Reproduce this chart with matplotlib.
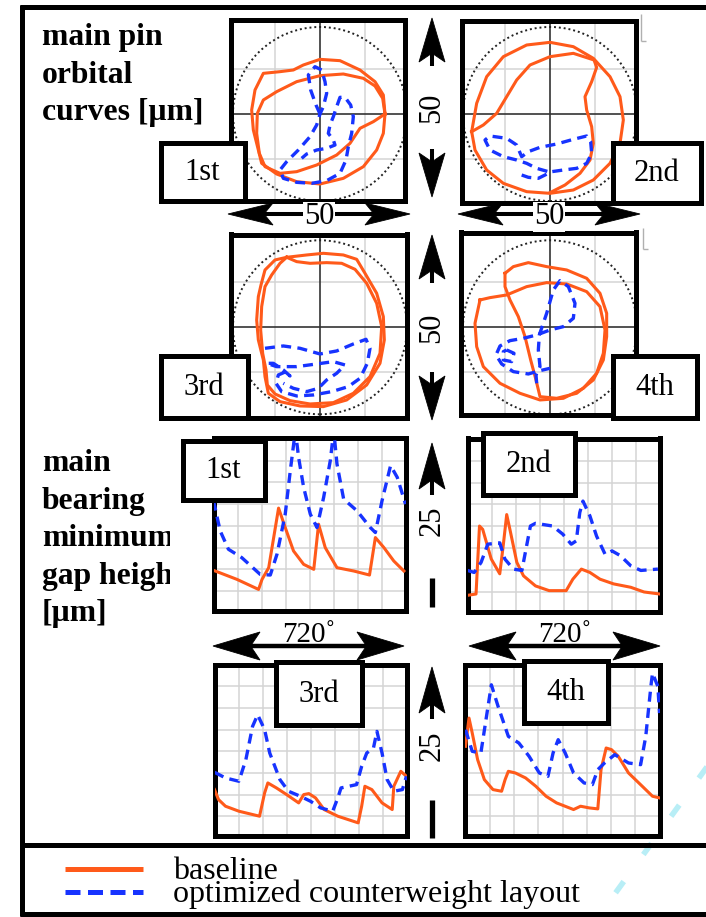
import numpy as np
import matplotlib.pyplot as plt
from matplotlib.patches import Rectangle, Polygon, Circle
from matplotlib.lines import Line2D
from matplotlib.transforms import Affine2D

# Colours / fonts
# ____________________________________________________________
C_BASE = '#ff5a1a'     # baseline (orange)
C_OPT = '#1733ff'      # optimized layout (blue dashed)
C_GRID = '#d4d4d4'
SERIF = ['Liberation Serif', 'DejaVu Serif']
plt.rcParams['font.family'] = SERIF

W, H = 706, 917

# Orbital curves [um], main pin 1..4  (x, y)
# ____________________________________________________________
orb1_base_a = [(19.5, 0), (19, 5.7), (16.5, 9.7), (12, 13.2), (6, 16), (0, 16.4), (-5, 14.7),
               (-8, 13.2), (-12, 12.7), (-17, 12.2), (-19.5, 7.2), (-20.5, 1.2), (-20, -4.8),
               (-18.5, -10.8), (-17.5, -14.8), (-13, -18), (-7, -20.3), (0, -21), (7, -19.3),
               (13, -15.8), (17, -10.8), (19, -5.8), (19.5, 0)]
orb1_base_b = [(19.5, 0), (16, -2.3), (12, -4.3), (9, -8.8), (5, -12.3), (-1, -15.3), (-7, -17.3),
               (-12, -17.8), (-16.5, -15.8), (-18.2, -11.8), (-19, -5.8), (-18.8, 0.2), (-17, 4.2),
               (-13, 6.7), (-7, 9.7), (0, 11.5), (7, 12), (13, 10.7), (16.5, 8.4), (18.8, 4.7),
               (19.5, 0)]
orb1_opt = [(0, 0), (-1.2, 2.7), (-2.8, 7.2), (-3.5, 11.7), (-1.5, 14.2), (0.5, 13.2), (1.5, 9.7),
            (2, 6.2), (1, 2.2), (0, 0), (-1, -3.3), (-3, -6.8), (-6.5, -10.8), (-10, -14.3),
            (-12, -16.8), (-11, -19.3), (-7, -20.5), (-2.5, -20.8), (2, -20), (6, -17.8),
            (7.8, -13.8), (8.5, -9.8), (9.5, -5.8), (10, -0.8), (9.2, 2.7), (7.5, 5), (6, 5),
            (5, 2.2), (4, -0.8), (3, -3.3), (2.5, -5.8), (4, -7.8), (4.5, -9.3), (2, -10.3),
            (-1, -10.8), (-4, -12), (-5.5, -13.3)]

orb2_base_a = [(-23.5, -5.3), (-22, 3.2), (-19, 11.2), (-14, 17.2), (-7, 20.7), (0, 21.5), (7, 20.2),
               (13, 16.7), (18, 11.2), (21, 5.2), (22, -1.8), (21, -8.8), (18, -14.8), (13, -19.8),
               (7, -22.8), (0, -23.8), (-7, -23.3), (-14, -20.8), (-19, -16.8), (-22.5, -10.8),
               (-23.5, -5.3)]
orb2_base_b = [(-23.5, -5.3), (-20, -3.3), (-16, 0.2), (-13, 5.2), (-10, 10.2), (-6, 14.7), (0, 17.2),
               (7, 18.2), (13.2, 16.2), (14, 14), (12.5, 9.7), (10.5, 5.2), (11, 1.2), (12.5, -3.8),
               (13, -8.8), (12, -13.8), (9, -17.8), (4.5, -21.3), (0, -23.6)]
orb2_opt = [(-8.5, -18.3), (-6.5, -19), (-3.5, -19.3), (-1.5, -18.3), (0.5, -17.3), (4, -16.8),
            (8, -16.3), (11, -14.8), (12.5, -11.8), (12.2, -8.3), (11, -6.6), (7, -7.6), (2, -9),
            (-3, -10), (-6.5, -11.3), (-8.5, -12.8), (-10, -9.3), (-13, -7.3), (-18, -6.6),
            (-19.5, -7.8), (-18, -10.8), (-14, -12.8), (-10, -13.8), (-7, -14.8), (-4, -16.3),
            (-0.5, -17.3)]

orb3_base_a = [(-10, 21), (-4, 21.7), (1, 22.2), (7, 21.7), (11, 20.4), (13.5, 16.2), (17, 10.2),
               (19, 3.2), (19.3, -3.8), (18, -10.8), (14, -17.3), (8, -21.8), (1, -23.8), (-6, -23.6),
               (-12, -22.3), (-15.5, -19.8), (-16.5, -14.8), (-17, -9.8), (-18.5, -3.8), (-19, 2.2),
               (-18.5, 9.2), (-17.7, 12.7), (-16.5, 17.2), (-13.5, 20.2), (-10, 21)]
orb3_base_b = [(-10, 21), (-7, 19.7), (-3, 19.2), (2, 19.4), (6.5, 19.2), (10.5, 17.4), (14, 13.2),
               (17, 7.2), (18.5, 0.2), (18, -7.8), (15, -14.8), (10, -19.8), (4, -22.6), (-3, -23),
               (-9, -22), (-13.5, -20), (-15.8, -17.3), (-16.2, -12.8), (-17.2, -7.8), (-17.8, -0.8),
               (-17.5, 6.2), (-16.5, 12.2), (-14.5, 15.7), (-12, 19.2), (-10, 21)]
orb3_opt = [(-16.5, -6.3), (-11, -5.6), (-6, -6.3), (0, -8), (5, -7.1), (10, -5), (13.8, -3.6),
            (15, -6.3), (14.2, -10.8), (12, -15.3), (8.5, -17.8), (3.5, -19.3), (-2, -20.3),
            (-7, -20.6), (-11.5, -19.3), (-13.2, -16.8), (-12.5, -14.3), (-10.2, -13.3), (-9, -14.6),
            (-11, -12.8), (-14, -10.8), (-16, -10.8), (-13, -11.8), (-7, -11.8), (-1, -11),
            (4, -10.3), (7.5, -11.3), (5, -13.8), (2, -15.8), (-0.5, -18.3), (-4, -19.3),
            (-8, -18.3), (-11, -16.8)]

orb4_base_a = [(-13.5, 16.2), (-11, 18.2), (-6.5, 19.4), (-1, 18.2), (5, 17.2), (11, 14.7), (15, 10.2),
               (17, 4.2), (17, -2.8), (16, -9.8), (13, -15.8), (8, -19.8), (2, -21.3), (-3, -20.8),
               (-4.2, -15.8), (-5.8, -9.8), (-7.5, -2.8), (-9.5, 3.2), (-12, 8.2), (-13.5, 12.2),
               (-13.5, 16.2)]
orb4_base_b = [(-21, 8.2), (-18, 8.9), (-13, 9.7), (-7, 12.2), (-1, 13.4), (5, 13), (11, 10.7),
               (15, 6.2), (16.5, -0.8), (16, -7.8), (14, -13.8), (10, -18.3), (4, -21.3), (-3, -21.8),
               (-9, -19.8), (-15, -16.8), (-20, -11.8), (-22, -5.8), (-22.5, 1.2), (-21, 8.2)]
orb4_opt = [(-4, -16.8), (-4.2, -14.3), (-3, -11.8), (-3.5, -6.8), (-3.2, -2.3), (-1, 4.2), (1, 11.2),
            (3, 14), (5.5, 12.2), (7.5, 7.2), (7, 2.7), (4, 0.2), (0, -0.8), (-4, -2.3), (-8, -3.3),
            (-12, -4), (-15, -5.6), (-16.2, -8.3), (-14.5, -11), (-11, -13.3), (-6.5, -14),
            (-3, -13), (0, -12.3)]
orb4_opt_loop = [(-13, -6.8), (-10.8, -7.8), (-11.5, -10.3), (-14, -9.8), (-14, -7.3), (-13, -6.8)]

# Minimum gap height [um] vs crank angle [deg], main bearing 1..4
# ____________________________________________________________
gap1_base_deg = [0, 88, 169, 182, 207, 244, 269, 300, 338, 376, 394, 419, 463, 526, 585, 607, 639, 676, 714]
gap1_base_um = [5.6, 4.25, 2.75, 4.25, 6, 14.9, 12, 8.5, 6.5, 5.75, 12.5, 9, 6, 5.5, 4.9, 10.5, 9, 7, 5.5]
gap1_opt_deg = [0, 25, 56, 106, 175, 213, 238, 269, 288, 307, 319, 338, 363, 388, 413, 438, 451, 463,
                488, 538, 588, 607, 632, 664, 689, 720]
gap1_opt_um = [16, 11.5, 8.75, 7.5, 5, 4.9, 8, 14, 20.5, 26.5, 22.5, 18, 14, 12, 16.5, 22, 26.5, 21.5,
               16.25, 14.5, 12, 11.25, 16, 21.25, 19.5, 15.5]

gap2_base_deg = [0, 32, 45, 57, 89, 121, 134, 147, 159, 185, 210, 255, 306, 370, 395, 427, 459, 497,
                 548, 612, 662, 720]
gap2_base_um = [2.0, 2.2, 12.3, 11.8, 7.4, 5.2, 9.4, 14.0, 11.8, 6.9, 4.9, 3.4, 2.7, 2.7, 4.4, 5.9,
                5.4, 4.4, 3.7, 3.2, 2.5, 2.2]
gap2_opt_deg = [0, 25, 51, 76, 121, 140, 172, 204, 217, 236, 255, 319, 357, 389, 408, 421, 433, 459,
                484, 516, 542, 573, 612, 650, 714]
gap2_opt_um = [5.7, 5.4, 6.9, 9.6, 9.8, 7.4, 5.9, 5.7, 8.4, 12.3, 12.7, 12.3, 11.1, 9.6, 10.1, 14.3,
               16, 13.8, 10.8, 8.1, 8.6, 7.9, 6.4, 5.7, 5.9]

gap3_base_deg = [0, 15, 41, 91, 168, 187, 199, 231, 269, 314, 333, 352, 377, 409, 460, 536, 549, 561,
                 587, 625, 663, 669, 695, 716]
gap3_base_um = [6.5, 5, 4, 3.25, 2.5, 6, 7.5, 6.75, 5.75, 4.5, 5.75, 5.9, 5.25, 3.5, 2.5, 1.5, 4, 7,
                6.5, 4.5, 3.5, 7, 9.25, 8.5]
gap3_opt_deg = [0, 41, 91, 117, 142, 161, 187, 206, 244, 276, 320, 358, 396, 441, 460, 472, 530, 549,
                568, 593, 606, 625, 644, 669, 701, 716]
gap3_opt_um = [9.1, 8.25, 7.75, 11, 16, 17.75, 15.5, 12, 8, 6.25, 5.5, 4.75, 3.75, 3.25, 5.25, 6.75,
               7.25, 10, 12, 12.75, 15.25, 12, 8, 6.25, 6.5, 8.5]

gap4_base_deg = [0, 13, 25, 45, 70, 102, 134, 147, 159, 185, 223, 261, 299, 338, 401, 427, 459, 491,
                 503, 522, 542, 567, 605, 656, 694, 720]
gap4_base_um = [13, 17.25, 15, 11, 8, 6.5, 6.25, 8, 9.25, 9, 8.25, 7, 5.5, 4.5, 3.5, 4, 3.75, 3.6,
                9.5, 12.75, 12.5, 11.5, 9, 7, 5.5, 5.25]
gap4_opt_deg = [0, 25, 57, 76, 96, 121, 159, 198, 236, 274, 306, 325, 344, 370, 401, 440, 471, 491,
                516, 554, 605, 650, 669, 688, 694, 714, 720]
gap4_opt_um = [15.5, 12.25, 12, 17, 22.25, 19, 14.5, 13.5, 11.5, 9, 8.5, 12, 14, 12, 9, 7.5, 7.25,
               9.5, 10.5, 11.75, 10.5, 10.25, 14.5, 22, 24, 22, 18]

labels = ['1st', '2nd', '3rd', '4th']
legend_labels = ['baseline', 'optimized counterweight layout']

# Figure and helpers (layout in pixels, y downwards)
# ____________________________________________________________
fig = plt.figure(figsize=(W / 100, H / 100), dpi=100, facecolor='white')
PX = Affine2D().scale(1 / W, -1 / H).translate(0, 1) + fig.transFigure
LW_BOX = 3.6
LW_BASE, LW_OPT, DASH = 2.2, 2.4, (0, (3.0, 1.9))


def rect(x0, y0, x1, y1):
    return [x0 / W, 1 - y1 / H, (x1 - x0) / W, (y1 - y0) / H]


def frame_axes(ax):
    ax.set_xticks([])
    ax.set_yticks([])
    for sp in ax.spines.values():
        sp.set_linewidth(LW_BOX)
        sp.set_edgecolor('black')


def line(x0, y0, x1, y1, lw=LW_BOX, color='black', z=6, **kw):
    fig.add_artist(Line2D([x0, x1], [y0, y1], transform=PX, lw=lw, color=color,
                          solid_capstyle='butt', zorder=z, **kw))


def label_box(x0, y0, x1, y1, s):
    fig.add_artist(Rectangle((x0 + 2.5, y0 + 2.5), x1 - x0 - 5, y1 - y0 - 5, transform=PX,
                             fc='white', ec='black', lw=LW_BOX, zorder=7))
    fig.text((x0 + x1) / 2, (y0 + y1) / 2 + 1, s, transform=PX, ha='center', va='center',
             fontsize=22, zorder=8)


def head(tx, ty, dx, dy, length=44, width=26):
    bx, by = tx - dx * length, ty - dy * length
    px, py = -dy * width / 2, dx * width / 2
    nx, ny = tx - dx * length * 0.8, ty - dy * length * 0.8
    verts = [(tx, ty), (bx + px, by + py), (nx, ny), (bx - px, by - py)]
    fig.add_artist(Polygon(verts, closed=True, transform=PX, fc='black', ec='black',
                           lw=0.6, zorder=6))


def xy(pts):
    a = np.asarray(pts, dtype=float)
    return a[:, 0], a[:, 1]


# Orbit panels
# ____________________________________________________________
UM_PX = 10 / 3   # pixels per um
orbit_boxes = [(228, 17, 407, 203), (459, 18, 638, 205), (228, 232, 409, 420), (458, 230, 638, 418)]
orbit_centres = [(320, 114), (550, 114), (320, 327.3), (550, 327.3)]
orbit_base = [[orb1_base_a, orb1_base_b], [orb2_base_a, orb2_base_b],
              [orb3_base_a, orb3_base_b], [orb4_base_a, orb4_base_b]]
orbit_opt = [[orb1_opt], [orb2_opt], [orb3_opt], [orb4_opt, orb4_opt_loop]]

for box, (cx, cy), base, opt in zip(orbit_boxes, orbit_centres, orbit_base, orbit_opt):
    x0, y0, x1, y1 = box[0] + 2.5, box[1] + 2.5, box[2] - 2.5, box[3] - 2.5
    ax = fig.add_axes(rect(x0, y0, x1, y1))
    ax.set_xlim((x0 - cx) / UM_PX, (x1 - cx) / UM_PX)
    ax.set_ylim((cy - y1) / UM_PX, (cy - y0) / UM_PX)
    for g in (-13.5, 13.5):
        ax.axvline(g, color=C_GRID, lw=1.1, zorder=0)
        ax.axhline(g, color=C_GRID, lw=1.1, zorder=0)
    ax.axvline(0, color='#333333', lw=1.2, zorder=1)
    ax.axhline(0, color='#333333', lw=1.2, zorder=1)
    ax.add_patch(Circle((0, 0), 26.1, fill=False, ec='#222222', lw=1.4, ls=(0, (1, 1.5)), zorder=1))
    for pts in base:
        ax.plot(*xy(pts), color=C_BASE, lw=LW_BASE, solid_joinstyle='round', zorder=3)
    for pts in opt:
        ax.plot(*xy(pts), color=C_OPT, lw=LW_OPT, ls=DASH, zorder=4)
    frame_axes(ax)

# Gap height panels
# ____________________________________________________________
gap_boxes = [(211, 436, 408, 613), (465, 436, 662, 614), (212, 662, 410, 838), (463, 662, 662, 838)]
gap_series = [(gap1_base_deg, gap1_base_um, gap1_opt_deg, gap1_opt_um),
              (gap2_base_deg, gap2_base_um, gap2_opt_deg, gap2_opt_um),
              (gap3_base_deg, gap3_base_um, gap3_opt_deg, gap3_opt_um),
              (gap4_base_deg, gap4_base_um, gap4_opt_deg, gap4_opt_um)]

for box, (bd, bu, od, ou) in zip(gap_boxes, gap_series):
    ax = fig.add_axes(rect(box[0] + 2.5, box[1] + 2.5, box[2] - 2.5, box[3] - 2.5))
    ax.set_xlim(0, 720)
    ax.set_ylim(-0.4, 25.3)
    for g in np.arange(90, 720, 90):
        ax.axvline(g, color=C_GRID, lw=1.1, zorder=0)
    for g in np.arange(2.5, 25, 3.25):
        ax.axhline(g, color=C_GRID, lw=1.1, zorder=0)
    ax.plot(bd, bu, color=C_BASE, lw=LW_BASE, solid_joinstyle='round', zorder=3)
    ax.plot(od, ou, color=C_OPT, lw=LW_OPT, ls=DASH, zorder=4)
    frame_axes(ax)

# Label boxes
# ____________________________________________________________
orbit_label_boxes = [(158, 140, 247, 203), (610, 140, 703, 205), (158, 353, 250, 420), (610, 353, 699, 420)]
gap_label_boxes = [(180, 438, 267, 502), (480, 430, 577, 497), (273, 659, 364, 727), (521, 658, 610, 725)]
for b, s in zip(orbit_label_boxes, labels):
    label_box(*b, s)
for b, s in zip(gap_label_boxes, labels):
    label_box(*b, s)

# Scale arrows
# ____________________________________________________________
SHAFT = 2.9
# vertical 50 um arrows between orbit columns
for top, bot, ymid in [(18, 197, 108), (235, 420, 328)]:
    head(432, top, 0, -1)
    head(432, bot, 0, 1)
    line(432, top + 30, 432, top + 48, lw=SHAFT)
    line(432, bot - 48, 432, bot - 30, lw=SHAFT)
    fig.text(432, ymid, '50', transform=PX, rotation=90, ha='center', va='center',
             fontsize=22, zorder=7)
# horizontal 50 um arrows under the first orbit row
for xl, xr in [(228, 410), (458, 640)]:
    line(xl + 20, 214, xr - 20, 214, lw=SHAFT)
    head(xl, 214, -1, 0, length=45, width=22)
    head(xr, 214, 1, 0, length=45, width=22)
    fig.text((xl + xr) / 2, 217, '50', transform=PX, ha='center', va='center', fontsize=22,
             zorder=7, bbox=dict(fc='white', ec='none', pad=0.5))
# vertical 25 um arrows between gap columns
for top, ymid, b0, b1 in [(443, 521, 578, 607), (667, 746, 800, 838)]:
    head(432, top, 0, -1, length=46, width=26)
    line(432, top + 30, 432, top + 52, lw=SHAFT)
    fig.text(432, ymid, '25', transform=PX, rotation=90, ha='center', va='center',
             fontsize=22, zorder=7)
    line(432, b0, 432, b1, lw=3.8)
# horizontal 720 deg arrows
for xl, xr in [(213, 404), (469, 660)]:
    line(xl + 20, 646, xr - 20, 646, lw=3.2)
    head(xl, 646, -1, 0, length=47, width=28)
    head(xr, 646, 1, 0, length=47, width=28)
    fig.text((xl + xr) / 2, 642, '720˚', transform=PX, ha='center', va='baseline',
             fontsize=21, zorder=7)

# Row captions
# ____________________________________________________________
for s, yb in zip(['main pin', 'orbital', 'curves [µm]'], [45, 83, 120]):
    fig.text(42, yb, s, transform=PX, ha='left', va='baseline', fontsize=22.8,
             fontweight='bold', zorder=3)
for s, yb in zip(['main', 'bearing', 'minimum', 'gap height', '[µm]'], [471, 509, 546, 584, 621]):
    fig.text(42, yb, s, transform=PX, ha='left', va='baseline', fontsize=22.8,
             fontweight='bold', zorder=3)
fig.add_artist(Rectangle((170, 505), 41, 135, transform=PX, fc='white', ec='none', zorder=4))

# faint scan marks
line(641, 14, 641, 41, lw=1.0, color='#b0b0b0', z=2)
line(641, 41, 646, 41, lw=1.0, color='#b0b0b0', z=2)
line(643, 228, 643, 249, lw=1.0, color='#b0b0b0', z=2)
line(643, 249, 648, 249, lw=1.0, color='#b0b0b0', z=2)
fig.add_artist(Line2D([712, 598], [760, 917], transform=PX, lw=4.0, color='#b8eef6',
                      ls=(0, (2.5, 6)), zorder=1))

# Outer frame and legend
# ____________________________________________________________
line(22, 5, 22, 916)
line(20, 7, 706, 7)
line(20, 845, 706, 845)
line(20, 914, 706, 914)

fig.add_artist(Line2D([65, 143], [869, 869], transform=PX, lw=3.6, color=C_BASE,
                      solid_capstyle='butt', zorder=6))
fig.add_artist(Line2D([65, 143], [892, 892], transform=PX, lw=3.6, color=C_OPT,
                      ls=(0, (3, 1.5)), zorder=6))
fig.text(173, 902, '\n'.join(legend_labels), transform=PX, ha='left', va='baseline',
         fontsize=23, linespacing=0.72, multialignment='left')

fig.savefig('out.png', dpi=100, facecolor='white')
